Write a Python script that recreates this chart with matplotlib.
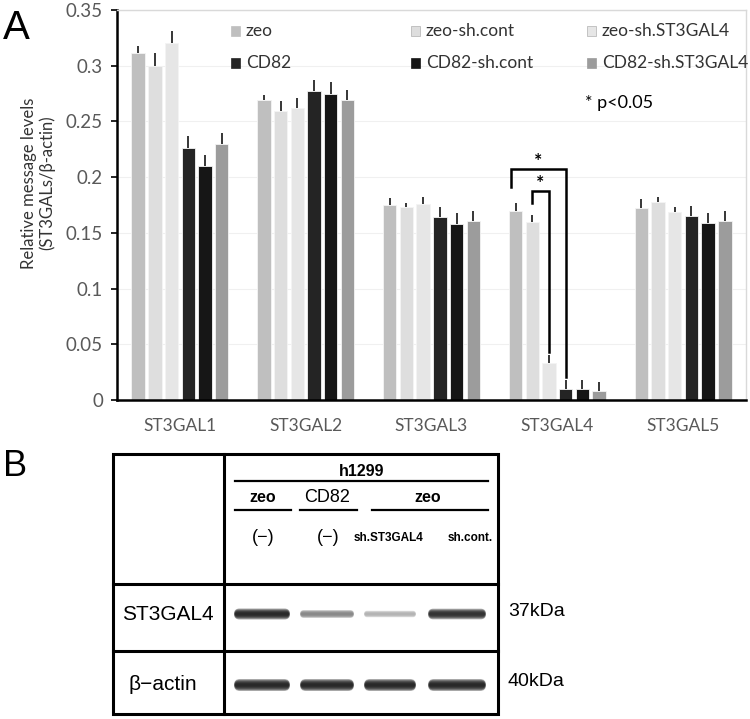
import matplotlib
matplotlib.use("Agg")
import matplotlib.pyplot as plt
import numpy as np
from matplotlib.patches import FancyBboxPatch, Rectangle

# ---------------- data ----------------
genes = ["ST3GAL1", "ST3GAL2", "ST3GAL3", "ST3GAL4", "ST3GAL5"]
series = ["zeo", "zeo-sh.cont", "zeo-sh.ST3GAL4", "CD82", "CD82-sh.cont", "CD82-sh.ST3GAL4"]
zeo = [0.311, 0.269, 0.175, 0.170, 0.172]
zeo_sh_cont = [0.300, 0.259, 0.173, 0.160, 0.178]
zeo_sh_st3gal4 = [0.320, 0.262, 0.176, 0.033, 0.169]
cd82 = [0.226, 0.277, 0.164, 0.010, 0.165]
cd82_sh_cont = [0.210, 0.275, 0.158, 0.010, 0.159]
cd82_sh_st3gal4 = [0.230, 0.269, 0.161, 0.008, 0.161]
err_zeo = [0.007, 0.005, 0.006, 0.007, 0.008]
err_zeo_sh_cont = [0.011, 0.009, 0.004, 0.006, 0.004]
err_zeo_sh_st3gal4 = [0.011, 0.009, 0.006, 0.007, 0.004]
err_cd82 = [0.011, 0.010, 0.009, 0.008, 0.009]
err_cd82_sh_cont = [0.010, 0.010, 0.010, 0.008, 0.009]
err_cd82_sh_st3gal4 = [0.010, 0.009, 0.009, 0.008, 0.009]
colors = ["#bfbfbf", "#dedede", "#e6e6e6", "#242424", "#161616", "#9c9c9c"]

# significance brackets (ST3GAL4 group): (left bar, right bar, bracket level, left foot, right foot)
brackets = [(0, 3, 0.207, 0.191, 0.021), (1, 2, 0.188, 0.177, 0.043)]

# western blot (panel B)
lane_labels_top = ["(−)", "(−)", "sh.ST3GAL4", "sh.cont."]
st3gal4_band = [1.0, 0.55, 0.35, 0.95]
actin_band = [1.0, 1.0, 1.0, 1.0]

values = [zeo, zeo_sh_cont, zeo_sh_st3gal4, cd82, cd82_sh_cont, cd82_sh_st3gal4]
errors = [err_zeo, err_zeo_sh_cont, err_zeo_sh_st3gal4, err_cd82, err_cd82_sh_cont, err_cd82_sh_st3gal4]

W, H = 750, 719
fig = plt.figure(figsize=(W / 100, H / 100), dpi=100)
plt.rcParams["font.family"] = ["Lato", "DejaVu Sans"]

# ---------------- panel A ----------------
AX0, AX1, AY0, AY1 = 117, 746, 10, 400
ax = fig.add_axes([AX0 / W, 1 - AY1 / H, (AX1 - AX0) / W, (AY1 - AY0) / H])
x = np.arange(len(genes))
step = 0.1327
width = 0.107
for i, (name, vals, errs, c) in enumerate(zip(series, values, errors, colors)):
    pos = x + (i - 2.5) * step
    ax.bar(pos, vals, width, color=c, edgecolor="#f4f4f4", linewidth=0.6, label=name, zorder=2)
    ax.errorbar(pos, vals, yerr=[np.zeros(len(errs)), errs], fmt="none", ecolor="black",
                elinewidth=1.1, capsize=0, zorder=3)

ax.set_xlim(-0.5, 4.5)
ax.set_ylim(0, 0.35)
ax.set_yticks(np.arange(0, 0.351, 0.05))
ax.set_yticklabels(["0", "0.05", "0.1", "0.15", "0.2", "0.25", "0.3", "0.35"])
ax.set_xticks(x)
ax.set_xticklabels(genes)
ax.tick_params(axis="y", labelsize=13.5, labelcolor="#595959", color="black", length=4,
               width=1.2, direction="out", pad=6)
ax.tick_params(axis="x", labelsize=12.5, labelcolor="#595959", length=0, pad=13)
ax.yaxis.grid(True, color="#f0f0f0", linewidth=0.8, zorder=0)
ax.set_axisbelow(True)
for s in ["top", "right"]:
    ax.spines[s].set_color("#d9d9d9")
    ax.spines[s].set_linewidth(1.0)
for s in ["left", "bottom"]:
    ax.spines[s].set_color("black")
    ax.spines[s].set_linewidth(1.8)


def fx(px):
    return (px - AX0) / (AX1 - AX0)


def fy(py):
    return (AY1 - py) / (AY1 - AY0)


ax.set_ylabel("Relative message levels\n(ST3GALs/β-actin)", fontsize=12, color="#333333",
              linespacing=1.1)
ax.yaxis.set_label_coords(fx(55), fy(183))

# manual legend laid out as in the reference (3 columns x 2 rows)
leg_cols = [231, 411, 587]
leg_rows = [31, 63]
for i, (name, c) in enumerate(zip(series, colors)):
    col, row = i % 3, i // 3
    px, py = leg_cols[col], leg_rows[row]
    ax.add_patch(Rectangle((fx(px), fy(py + 4.5)), 9 / (AX1 - AX0), 9 / (AY1 - AY0),
                           transform=ax.transAxes, fc=c, ec="#b0b0b0" if i in (1, 2) else c,
                           lw=0.5, zorder=5, clip_on=False))
    ax.text(fx(px + 15), fy(py), name, transform=ax.transAxes, fontsize=12.5, color="#333333",
            ha="left", va="center", zorder=5)
ax.text(fx(585), fy(103), "* p<0.05", transform=ax.transAxes, fontsize=13, color="black",
        ha="left", va="center")

g = 3
for (a, b, lvl, fa, fb) in brackets:
    xa = g + (a - 2.5) * step - (0.04 if a == 0 else 0)
    xb = g + (b - 2.5) * step
    ax.plot([xa, xa, xb, xb], [fa, lvl, lvl, fb], color="black", lw=1.8, zorder=4,
            solid_joinstyle="miter")
    ax.text((xa + xb) / 2, lvl - 0.001, "*", ha="center", va="bottom", fontsize=14,
            fontweight="bold", color="black")

# ---------------- overlay for labels & panel B ----------------
ov = fig.add_axes([0, 0, 1, 1], zorder=-1)
ov.set_xlim(0, W)
ov.set_ylim(H, 0)
ov.axis("off")
ov.patch.set_alpha(0)
ov.text(3, 28, "A", fontsize=29, ha="left", va="center", family="Liberation Sans")
ov.text(3, 466, "B", fontsize=26, ha="left", va="center", family="Liberation Sans")

bf = "Liberation Sans"
lw = 2.2
# table frame
ov.add_patch(Rectangle((113, 454), 385, 260, fill=False, lw=lw, ec="black"))
ov.plot([224, 224], [454, 714], color="black", lw=lw)
ov.plot([113, 498], [584, 584], color="black", lw=lw)
ov.plot([113, 498], [651, 651], color="black", lw=lw)

ov.text(362, 471, "h1299", fontsize=11.5, fontweight="bold", ha="center", va="center", family=bf)
ov.plot([235, 488], [481, 481], color="black", lw=1.6)
ov.text(263, 498, "zeo", fontsize=11.5, fontweight="bold", ha="center", va="center", family=bf)
ov.plot([235, 291], [510, 510], color="black", lw=1.6)
ov.text(327, 497, "CD82", fontsize=13, ha="center", va="center", family=bf)
ov.plot([300, 357], [510, 510], color="black", lw=1.6)
ov.text(428, 498, "zeo", fontsize=11.5, fontweight="bold", ha="center", va="center", family=bf)
ov.plot([372, 488], [510, 510], color="black", lw=1.6)

lane_x = [262, 327, 390, 457]
lane_w = [56, 54, 52, 58]
for lx, t in zip(lane_x, lane_labels_top):
    if t.startswith("("):
        ov.text(lx + 1, 537, t, fontsize=13, ha="center", va="center", family=bf)
    else:
        ov.text(lx + (-2 if t != "sh.cont." else 13), 538, t, fontsize=8.5, fontweight="bold",
                ha="center", va="center", family=bf)

ov.text(168, 614, "ST3GAL4", fontsize=15, ha="center", va="center", family=bf)
ov.text(163, 685, "β−actin", fontsize=15, ha="center", va="center", family=bf)
ov.text(508, 612, "37kDa", fontsize=14, ha="left", va="center", family=bf)
ov.text(508, 682, "40kDa", fontsize=14, ha="left", va="center", family=bf)


def band(cx, cy, w, h, inten):
    # soft band built from stacked rounded rectangles
    for k in range(6):
        f = 1 - k * 0.15
        shade = 1 - inten * 0.9
        ov.add_patch(FancyBboxPatch((cx - w / 2 * (0.95 + 0.05 * f), cy - h / 2 * f),
                                    w * (0.95 + 0.05 * f), h * f,
                                    boxstyle="round,pad=0,rounding_size=%f" % (h * f / 2),
                                    fc=(shade, shade, shade), ec="none", alpha=0.35, zorder=3))


for lx, w, it in zip(lane_x, lane_w, st3gal4_band):
    band(lx, 614, w, 4 + 7 * it, it)
for lx, w, it in zip(lane_x, lane_w, actin_band):
    band(lx, 685, w, 12 * it, it)

fig.savefig("out.png", dpi=100)
